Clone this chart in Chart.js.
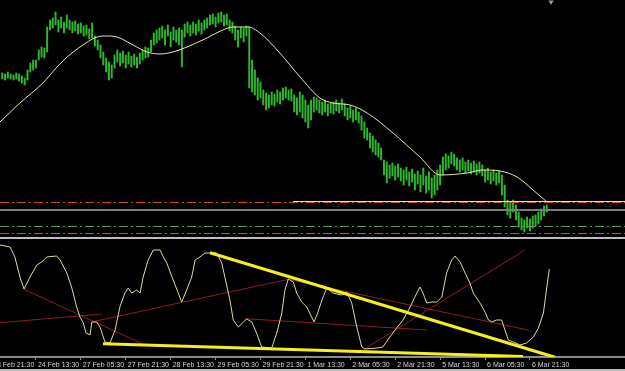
<!DOCTYPE html>
<html>
<head>
<title>EURUSD H1</title>
<script src="https://cdn.jsdelivr.net/npm/chart.js@4.4.1/dist/chart.umd.min.js"></script>
<style>
  body { margin: 0; background: #000; width: 625px; height: 371px; overflow: hidden; position: relative; }
  canvas { position: absolute; left: 0; }
  #priceChart { top: 0; }
  #oscChart { top: 241px; }
  .sep { position: absolute; left: 0; width: 625px; height: 2px; background: #bdbdbd; }
</style>
</head>
<body>
<canvas id="priceChart" width="625" height="238"></canvas>
<div class="sep" style="top:237px"></div>
<canvas id="oscChart" width="625" height="130"></canvas>
<div class="sep" style="top:369px"></div>

<script>
// H1 bars, index 0 = 23 Feb 21:30
var firstBar = 4;
var highs = [
  1.3427,1.3426,1.3428,1.3426,1.3425,1.3427,1.3426,1.3424,1.3422,1.3430,
  1.3437,1.3440,1.3440,1.3450,1.3453,1.3452,1.3473,1.3480,1.3482,1.3488,
  1.3480,1.3483,1.3478,1.3485,1.3480,1.3478,1.3479,1.3476,1.3477,1.3474,
  1.3475,1.3471,1.3477,1.3464,1.3460,1.3455,1.3448,1.3442,1.3438,1.3435,
  1.3445,1.3450,1.3447,1.3449,1.3445,1.3448,1.3444,1.3446,1.3443,1.3447,
  1.3450,1.3453,1.3452,1.3460,1.3467,1.3470,1.3472,1.3474,1.3470,1.3475,
  1.3468,1.3473,1.3470,1.3472,1.3470,1.3476,1.3478,1.3475,1.3478,1.3476,
  1.3480,1.3477,1.3480,1.3482,1.3485,1.3486,1.3483,1.3487,1.3488,1.3485,
  1.3486,1.3480,1.3478,1.3474,1.3470,1.3473,1.3472,1.3474,1.3473,1.3440,
  1.3430,1.3422,1.3418,1.3410,1.3407,1.3405,1.3408,1.3406,1.3410,1.3408,
  1.3412,1.3413,1.3410,1.3411,1.3405,1.3402,1.3408,1.3405,1.3400,1.3395,
  1.3400,1.3403,1.3402,1.3400,1.3398,1.3400,1.3396,1.3397,1.3398,1.3400,
  1.3397,1.3401,1.3396,1.3392,1.3394,1.3390,1.3392,1.3388,1.3384,1.3378,
  1.3372,1.3367,1.3364,1.3360,1.3357,1.3352,1.3340,1.3338,1.3335,1.3337,
  1.3334,1.3336,1.3332,1.3330,1.3333,1.3328,1.3331,1.3326,1.3329,1.3325,
  1.3332,1.3324,1.3328,1.3322,1.3325,1.3330,1.3335,1.3343,1.3346,1.3344,
  1.3348,1.3346,1.3342,1.3340,1.3342,1.3338,1.3340,1.3337,1.3339,1.3336,
  1.3338,1.3335,1.3330,1.3332,1.3328,1.3330,1.3327,1.3329,1.3325,1.3315,
  1.3300,1.3298,1.3300,1.3295,1.3288,1.3282,1.3280,1.3283,1.3281,1.3284,
  1.3285,1.3288,1.3291,1.3294,1.3295
];
var lows = [
  1.3421,1.3420,1.3422,1.3421,1.3420,1.3421,1.3419,1.3417,1.3415,1.3420,
  1.3428,1.3430,1.3432,1.3440,1.3443,1.3442,1.3448,1.3470,1.3472,1.3475,
  1.3468,1.3472,1.3467,1.3472,1.3470,1.3467,1.3469,1.3466,1.3467,1.3464,
  1.3465,1.3461,1.3462,1.3454,1.3450,1.3442,1.3435,1.3428,1.3420,1.3422,
  1.3432,1.3438,1.3434,1.3437,1.3432,1.3436,1.3433,1.3435,1.3432,1.3436,
  1.3440,1.3442,1.3443,1.3448,1.3455,1.3457,1.3460,1.3462,1.3455,1.3464,
  1.3453,1.3460,1.3458,1.3455,1.3433,1.3463,1.3467,1.3464,1.3467,1.3465,
  1.3469,1.3466,1.3470,1.3472,1.3475,1.3476,1.3473,1.3477,1.3478,1.3474,
  1.3475,1.3469,1.3467,1.3460,1.3453,1.3462,1.3458,1.3464,1.3412,1.3408,
  1.3405,1.3400,1.3402,1.3395,1.3390,1.3392,1.3395,1.3394,1.3398,1.3396,
  1.3400,1.3402,1.3400,1.3399,1.3388,1.3385,1.3388,1.3382,1.3378,1.3372,
  1.3380,1.3388,1.3390,1.3387,1.3385,1.3388,1.3384,1.3387,1.3386,1.3389,
  1.3387,1.3390,1.3384,1.3380,1.3382,1.3378,1.3380,1.3377,1.3370,1.3362,
  1.3360,1.3352,1.3348,1.3345,1.3343,1.3340,1.3325,1.3317,1.3322,1.3324,
  1.3320,1.3323,1.3319,1.3315,1.3320,1.3314,1.3318,1.3310,1.3316,1.3308,
  1.3315,1.3307,1.3310,1.3302,1.3305,1.3310,1.3315,1.3325,1.3330,1.3332,
  1.3336,1.3334,1.3330,1.3328,1.3330,1.3327,1.3329,1.3326,1.3328,1.3325,
  1.3327,1.3324,1.3318,1.3320,1.3316,1.3319,1.3315,1.3317,1.3305,1.3293,
  1.3285,1.3282,1.3288,1.3280,1.3273,1.3270,1.3268,1.3272,1.3269,1.3272,
  1.3274,1.3276,1.3280,1.3284,1.3288
];

// moving average, read at a few bars
var maIdx = [3.2,10.3,18.5,23.5,27.1,31.7,37.8,41.3,44.9,50.6,55.6,60.2,64.8,69.8,76.9,82.6,86.2,91.5,95.8,102.9,110.1,117.2,121.8,127.9,134.0,143.2,152.8,160.0,169.6,175.3,181.3,187.4,193.1,198.1];
var maVal = [1.3378,1.3397,1.3417,1.3433,1.3443,1.3453,1.3463,1.3464,1.3463,1.3455,1.3448,1.3446,1.3448,1.3453,1.3462,1.3470,1.3473,1.3473,1.3467,1.3447,1.3423,1.3402,1.3397,1.3395,1.3387,1.3367,1.3343,1.3325,1.3327,1.3330,1.3329,1.3323,1.3310,1.3298];

// horizontal levels: price and first bar
var levelPrice = [1.32985, 1.32975, 1.3290, 1.32735, 1.32665];
var levelFrom = [107.6, 3.2, 3.2, 3.2, 3.2];

// oscillator
var oscIdx = [3.2,6.8,8.5,10.3,11.75,13.9,16.3,17.45,18.5,19.8,23.4,24.6,27,28.7,30.5,31.7,32.9,33.8,35.3,35.9,37.6,38.8,40.6,42.4,44.2,45.9,47.7,48.9,50.1,51.9,53.1,54.2,56,57.8,60.2,61.4,62.6,64.9,66.7,67.9,69.7,71.5,72.7,74.4,76.2,78,80.4,82.2,85.1,86.3,88.1,89.9,91.1,92.9,94.6,96.4,100,101.8,103.6,104.7,105.9,107.7,108.9,110.7,112.5,114.2,115.1,116.5,117.9,119.6,121.8,124.9,126.7,128.5,130.3,132.1,133.2,137.4,139.6,142.1,144.5,146.8,149.3,151,152.8,153.9,155.2,157,158.8,160.6,162.3,164.1,165.3,167.1,168.9,170.6,171.8,174.2,176,177.2,178.4,180.1,181.9,183.1,184.3,186.1,188.4,190.8,193.2,195,196.8,198,198.9];
var oscVal = [111,109,99,79,67,79,91,93,95,99,100,96,83,69,49,39,33,23,21,34,34,29,14,13,26,49,63,68,63,66,63,79,96,106,106,99,93,76,63,54,66,79,96,99,103,103,103,93,56,36,29,34,37,34,23,9,8,23,43,66,77,74,63,54,49,39,34,44,56,68,63,61,64,53,29,9,7,8,9,19,28,36,49,59,69,63,53,54,54,59,83,96,100,94,83,73,63,53,44,36,34,36,36,26,16,14,11,13,19,28,43,69,87];

// trend lines [bar1, value1, bar2, value2]
var yellowLines = [[78.0,103.3,200.9,-1.3],[39.9,12.3,189.5,-0.5]];
var redLines = [[11.75,66.7,54.1,12],[3.2,33.3,39.5,42],[36.3,34.3,105.9,76.7],[90.5,37.3,155.3,26],[105.9,76.7,191.3,26],[132.5,6,190.2,106]];

var tickIdx = [0,16,32,48,64,80,96,112,128,144,160,176,192];
var tickLabels = ['23 Feb 21:30','24 Feb 13:30','27 Feb 05:30','27 Feb 21:30','28 Feb 13:30','29 Feb 05:30','29 Feb 21:30','1 Mar 13:30','2 Mar 05:30','2 Mar 21:30','5 Mar 13:30','6 Mar 05:30','6 Mar 21:30'];

var xMin = 3.2, xMax = 225.86;
var dashDot = [9,3,2,3];

function pts(xs, ys) {
  var out = [];
  for (var i = 0; i < Math.min(xs.length, ys.length); i++) out.push({x: xs[i], y: ys[i]});
  return out;
}

function seg(l, color, width) {
  return { type: 'line', data: [{x: l[0], y: l[1]}, {x: l[2], y: l[3]}], borderColor: color,
    borderWidth: width, pointRadius: 0, tension: 0, fill: false };
}

var barData = highs.map(function (h, k) { return {x: firstBar + k, y: [lows[k], h]}; });

var levelStyles = [
  {color: '#eee0b8', width: 1, dash: []},
  {color: '#c84a30', width: 1, dash: dashDot},
  {color: '#7c7c7c', width: 2, dash: []},
  {color: '#5a9c5a', width: 1, dash: dashDot},
  {color: '#c84a30', width: 1, dash: dashDot}
];
var levelSets = levelPrice.map(function (p, k) {
  return { type: 'line', data: [{x: levelFrom[k], y: p}, {x: xMax, y: p}],
    borderColor: levelStyles[k].color, borderWidth: levelStyles[k].width, borderDash: levelStyles[k].dash,
    pointRadius: 0, fill: false };
});

var common = {
  responsive: false,
  animation: false,
  events: [],
  layout: { padding: 0, autoPadding: false },
  plugins: { legend: { display: false }, tooltip: { enabled: false } }
};

new Chart(document.getElementById('priceChart'), {
  type: 'bar',
  data: {
    datasets: [
      { type: 'scatter', data: [{x: 199.5, y: 1.3498}], pointStyle: 'triangle', rotation: 180,
        pointRadius: 3, backgroundColor: '#8e9cb4', borderWidth: 0 },
      { type: 'line', data: pts(maIdx, maVal), borderColor: '#ece6b0', borderWidth: 1,
        pointRadius: 0, cubicInterpolationMode: 'monotone', fill: false }
    ].concat(levelSets).concat([
      { type: 'bar', data: barData, backgroundColor: '#2db82d', barThickness: 1.3, grouped: false }
    ])
  },
  options: Object.assign({}, common, {
    scales: {
      x: { type: 'linear', min: xMin, max: xMax, offset: false, display: false },
      y: { min: 1.3262, max: 1.3500, display: false }
    }
  })
});

new Chart(document.getElementById('oscChart'), {
  type: 'line',
  data: {
    datasets: yellowLines.map(function (l) { return seg(l, '#f4f01c', 3); })
      .concat([{ data: pts(oscIdx, oscVal), borderColor: '#dcd99c', borderWidth: 1, pointRadius: 0, tension: 0, fill: false }])
      .concat(redLines.map(function (l) { return seg(l, '#8e1e1e', 1); }))
  },
  options: Object.assign({}, common, {
    scales: {
      x: {
        type: 'linear', min: xMin, max: xMax, offset: false,
        afterFit: function (s) { s.height = 14; s.paddingLeft = 0; s.paddingRight = 0; },
        afterBuildTicks: function (s) { s.ticks = tickIdx.map(function (v) { return {value: v}; }); },
        grid: { drawOnChartArea: false, drawTicks: true, tickLength: 3, color: '#8a8a8a' },
        border: { display: true, color: '#8a8a8a', width: 2 },
        ticks: {
          autoSkip: false, maxRotation: 0, align: 'start', labelOffset: 2, padding: 1,
          color: '#d6d6d6', font: { family: 'Liberation Sans', size: 7 },
          callback: function (v, i) { return tickLabels[i]; }
        }
      },
      y: { min: -1, max: 115, display: false }
    }
  })
});
</script>
</body>
</html>
